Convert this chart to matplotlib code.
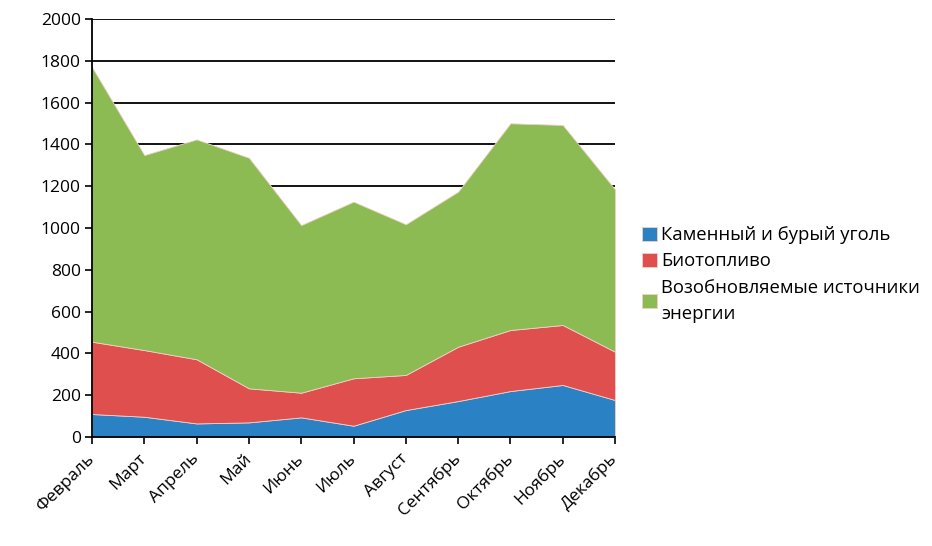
import matplotlib
matplotlib.use("Agg")
import matplotlib.pyplot as plt
import numpy as np

months = ["Февраль", "Март", "Апрель", "Май", "Июнь", "Июль", "Август",
          "Сентябрь", "Октябрь", "Ноябрь", "Декабрь"]
coal = [110, 97, 65, 70, 94, 54, 129, 172, 220, 249, 177]
biofuel = [346, 319, 307, 163, 118, 227, 168, 260, 292, 287, 231]
renewables = [1314, 933, 1052, 1103, 802, 845, 721, 742, 989, 957, 777]
series_names = ["Каменный и бурый уголь", "Биотопливо",
                "Возобновляемые источники\nэнергии"]
colors = ["#2a81c4", "#df4f4e", "#8dbb53"]
yticks = list(range(0, 2001, 200))

plt.rcParams['font.family'] = ['Open Sans', 'DejaVu Sans']

fig = plt.figure(figsize=(9.32, 5.46), dpi=100)
ax = fig.add_axes([0.0987, 0.1996, 0.5612, 0.7656])

x = np.arange(len(months))
ax.stackplot(x, coal, biofuel, renewables, colors=colors, labels=series_names,
             edgecolor="#f0d0c8", linewidth=0.6, zorder=2)

ax.set_xlim(0, len(months) - 1)
ax.set_ylim(0, 2000)
ax.set_yticks(yticks)
ax.set_xticks(x)
ax.set_xticklabels(months, rotation=45, ha='right', va='center',
                   rotation_mode='anchor')
ax.tick_params(axis='x', length=5, width=1.2, pad=9, labelsize=12.5)
ax.tick_params(axis='y', length=5, width=1.2, pad=3, labelsize=12.5)
ax.grid(axis='y', color='black', linewidth=1.3, zorder=1)
ax.set_axisbelow(True)
for s in ['top', 'right']:
    ax.spines[s].set_visible(False)
for s in ['left', 'bottom']:
    ax.spines[s].set_linewidth(1.3)
    ax.spines[s].set_zorder(3)

handles, labels = ax.get_legend_handles_labels()
leg = fig.legend(handles, labels, loc='upper left', bbox_to_anchor=(0.679, 0.603),
                 frameon=False, fontsize=13.3, handlelength=0.8, handleheight=0.8,
                 handletextpad=0.25, labelspacing=0.45, borderpad=0)
for t in leg.get_texts():
    t.set_linespacing(1.6)

fig.savefig("out.png", dpi=100)
